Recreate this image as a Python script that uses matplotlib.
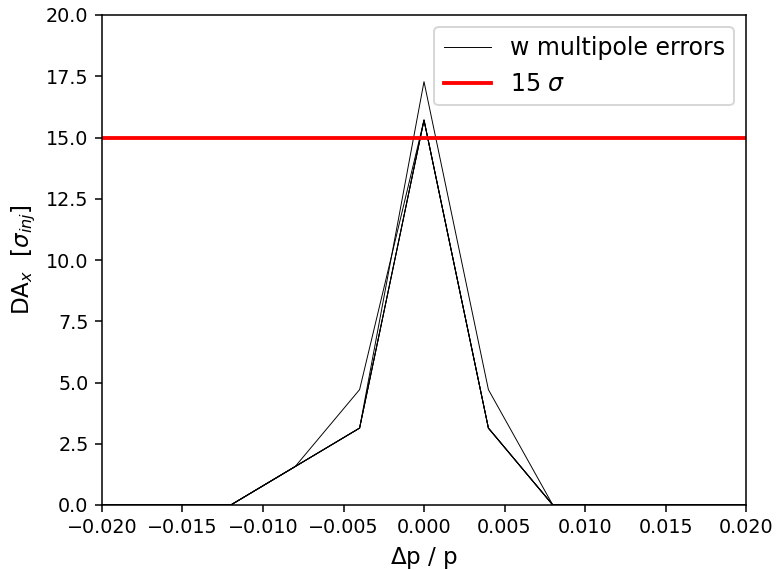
import matplotlib
matplotlib.use("Agg")
import matplotlib.pyplot as plt
import numpy as np

# momentum offsets and dynamic aperture per seed (units of sigma_inj)
dpp = [-0.020, -0.016, -0.012, -0.008, -0.004, 0.000, 0.004, 0.008, 0.012, 0.016, 0.020]
seed_1 = [0, 0, 0, 1.57, 3.14, 15.71, 3.14, 0, 0, 0, 0]
seed_2 = [0, 0, 0, 1.57, 3.14, 15.71, 3.14, 0, 0, 0, 0]
seed_3 = [0, 0, 0, 1.57, 4.71, 15.71, 3.14, 0, 0, 0, 0]
seed_4 = [0, 0, 0, 1.57, 3.14, 17.28, 4.71, 0, 0, 0, 0]
seed_5 = [0, 0, 0, 1.57, 3.14, 15.71, 3.14, 0, 0, 0, 0]
seeds = [seed_1, seed_2, seed_3, seed_4, seed_5]
threshold = 15

plt.rcParams["font.size"] = 10

dpi = 138
fig = plt.figure(figsize=(776 / dpi, 570 / dpi), dpi=dpi)
ax = fig.add_axes([102 / 776, 1 - 505 / 570, 644 / 776, 490 / 570])

for i, s in enumerate(seeds):
    ax.plot(dpp, s, color="black", lw=0.5,
            label="w multipole errors" if i == 0 else None)
ax.axhline(threshold, color="red", lw=2, label=r"15 $\sigma$")

ax.set_xlim(-0.02, 0.02)
ax.set_ylim(0, 20)
ax.set_xticks(np.arange(-0.02, 0.0201, 0.005))
ax.set_yticks(np.arange(0, 20.01, 2.5))
ax.set_xlabel(r"$\Delta$p / p", fontsize=12)
ax.set_ylabel(r"DA$_x$  [$\sigma_{inj}$]", fontsize=12)
ax.legend(loc="upper right", fontsize=12.3)

fig.savefig("out.png", dpi=dpi)
